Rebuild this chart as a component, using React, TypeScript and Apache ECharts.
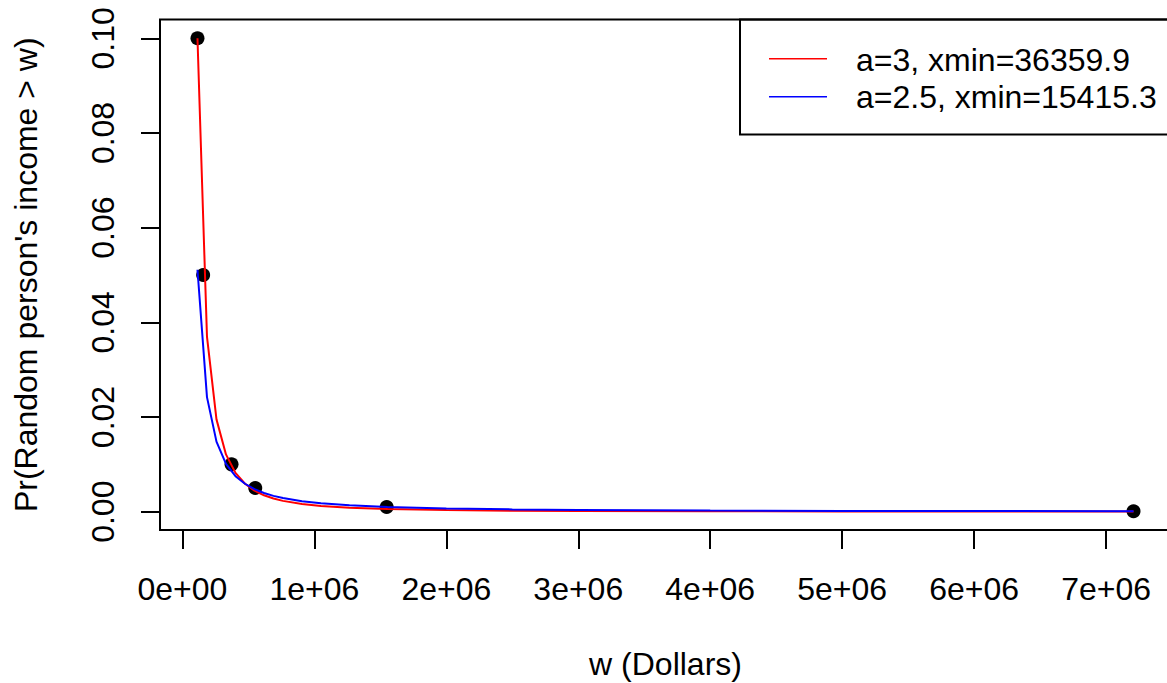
import React, { useEffect, useRef } from "react";
import * as echarts from "echarts";

// Observed data points (income threshold w, share of people above it)
const pointW = [114000, 157000, 372000, 552000, 1548000, 7208000];
const pointP = [0.1, 0.05, 0.01, 0.005, 0.001, 0.0001];

const curveW = [
  114000, 186000, 258000, 330000, 402000, 474000, 546000, 618000, 690000,
  762000, 906000, 1050000, 1266000, 1554000, 2000000, 2500000, 3000000,
  4000000, 5000000, 6000000, 7208000,
];
// a=3, xmin=36359.9 (red)
const redP = [
  0.1, 0.037, 0.0195, 0.0121, 0.0082, 0.0059, 0.00444, 0.00346, 0.00278,
  0.00228, 0.00161, 0.0012, 0.00082, 0.00055, 0.00033, 0.00021, 0.00015,
  0.00008, 0.00005, 0.00004, 0.00003,
];
// a=2.5, xmin=15415.3 (blue)
const blueP = [
  0.0511, 0.0242, 0.0148, 0.0101, 0.0075, 0.0059, 0.00475, 0.00394, 0.00334,
  0.00288, 0.00222, 0.00178, 0.00134, 0.00099, 0.00068, 0.00048, 0.00037,
  0.00024, 0.00017, 0.00013, 0.0001,
];

const xTickValues = [0, 1e6, 2e6, 3e6, 4e6, 5e6, 6e6, 7e6];
const xTickLabels = ["0e+00", "1e+06", "2e+06", "3e+06", "4e+06", "5e+06", "6e+06", "7e+06"];
const yTickValues = [0, 0.02, 0.04, 0.06, 0.08, 0.1];
const yTickLabels = ["0.00", "0.02", "0.04", "0.06", "0.08", "0.10"];

const legendNames = ["a=3, xmin=36359.9", "a=2.5, xmin=15415.3"];
const legendColors = ["#ff0000", "#0000ff"];

const FONT = "'Liberation Sans', Arial, Helvetica, sans-serif";
const FS = 32;

export default function App() {
  const ref = useRef<HTMLDivElement>(null);
  useEffect(() => {
    if (!ref.current) return;
    const chart = echarts.init(ref.current, null, { renderer: "svg" });
    const zip = (xs: number[], ys: number[]) => xs.map((x, i) => [x, ys[i]]);
    const option: any = {
      animation: false,
      backgroundColor: "#ffffff",
      textStyle: { fontFamily: FONT },
      grid: {
        left: 160,
        top: 19.5,
        right: -4,
        bottom: 153,
        outerBoundsMode: "none",
        containLabel: false,
        show: true,
        borderColor: "#000",
        borderWidth: 2,
        backgroundColor: "transparent",
      },
      xAxis: {
        type: "value",
        min: -170000,
        max: 7492000,
        name: "w (Dollars)",
        nameLocation: "middle",
        nameGap: 118,
        nameTextStyle: { fontSize: FS, color: "#000", fontFamily: FONT },
        axisLine: { show: false, onZero: false },
        axisTick: {
          show: true,
          length: 19,
          customValues: xTickValues,
          lineStyle: { color: "#000", width: 2 },
        },
        axisLabel: {
          customValues: xTickValues,
          margin: 43,
          fontSize: FS,
          color: "#000",
          fontFamily: FONT,
          formatter: (v: number) => {
            const i = xTickValues.findIndex((t) => Math.abs(t - v) < 1);
            return i >= 0 ? xTickLabels[i] : "";
          },
        },
        splitLine: { show: false },
      },
      yAxis: {
        type: "value",
        min: -0.00387,
        max: 0.10397,
        name: "Pr(Random person's income > w)",
        nameLocation: "middle",
        nameGap: 118,
        nameTextStyle: { fontSize: FS, color: "#000", fontFamily: FONT },
        axisLine: { show: false, onZero: false },
        axisTick: {
          show: true,
          length: 19,
          customValues: yTickValues,
          lineStyle: { color: "#000", width: 2 },
        },
        axisLabel: {
          customValues: yTickValues,
          rotate: 90,
          margin: 41,
          fontSize: FS,
          color: "#000",
          fontFamily: FONT,
          formatter: (v: number) => {
            const i = yTickValues.findIndex((t) => Math.abs(t - v) < 1e-9);
            return i >= 0 ? yTickLabels[i] : "";
          },
        },
        splitLine: { show: false },
      },
      series: [
        {
          type: "scatter",
          data: zip(pointW, pointP),
          symbol: "circle",
          symbolSize: 14,
          itemStyle: { color: "#000", opacity: 1 },
          z: 1,
        },
        {
          type: "line",
          data: zip(curveW, redP),
          showSymbol: false,
          symbol: "none",
          lineStyle: { color: legendColors[0], width: 2 },
          z: 2,
        },
        {
          type: "line",
          data: zip(curveW, blueP),
          showSymbol: false,
          symbol: "none",
          lineStyle: { color: legendColors[1], width: 2 },
          z: 3,
        },
      ],
      graphic: [
        {
          type: "rect",
          shape: { x: 740, y: 19.5, width: 500, height: 115 },
          style: { fill: "none", stroke: "#000", lineWidth: 2 },
          z: 10,
        },
        {
          type: "line",
          shape: { x1: 769, y1: 58.8, x2: 827, y2: 58.8 },
          style: { stroke: legendColors[0], lineWidth: 1.5 },
          z: 10,
        },
        {
          type: "line",
          shape: { x1: 769, y1: 96.7, x2: 827, y2: 96.7 },
          style: { stroke: legendColors[1], lineWidth: 1.5 },
          z: 10,
        },
        {
          type: "text",
          x: 856,
          y: 60,
          style: {
            text: legendNames[0],
            fontSize: FS,
            fontFamily: FONT,
            fill: "#000",
            textAlign: "left",
            textVerticalAlign: "middle",
          },
          z: 10,
        },
        {
          type: "text",
          x: 856,
          y: 96.8,
          style: {
            text: legendNames[1],
            fontSize: FS,
            fontFamily: FONT,
            fill: "#000",
            textAlign: "left",
            textVerticalAlign: "middle",
          },
          z: 10,
        },
      ],
    };
    chart.setOption(option);
    return () => chart.dispose();
  }, []);
  return (
    <div
      ref={ref}
      style={{ position: "absolute", left: 0, top: 0, width: 1167, height: 683, background: "#fff" }}
    />
  );
}
